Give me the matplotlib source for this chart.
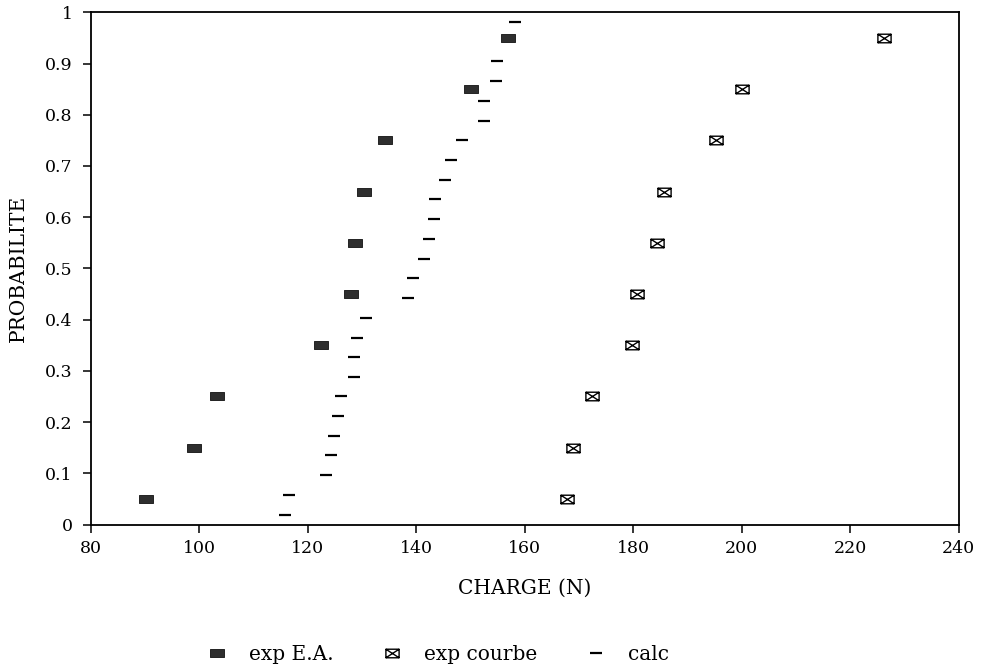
import matplotlib
matplotlib.use("Agg")
import matplotlib.pyplot as plt
from matplotlib.path import Path

# ---- data ----
ea_x = [90.2, 99.0, 103.4, 122.4, 128.0, 128.8, 130.5, 134.3, 150.1, 156.9]
ea_y = [0.05, 0.15, 0.25, 0.35, 0.45, 0.55, 0.65, 0.75, 0.85, 0.95]

courbe_x = [167.9, 168.9, 172.5, 179.8, 180.8, 184.5, 185.7, 195.3, 200.1, 226.3]
courbe_y = [0.05, 0.15, 0.25, 0.35, 0.45, 0.55, 0.65, 0.75, 0.85, 0.95]

calc_x = [115.9, 116.5, 123.4, 124.3, 124.9, 125.6, 126.2, 128.5, 128.6, 129.2,
          130.8, 138.5, 139.4, 141.5, 142.3, 143.3, 143.5, 145.3, 146.5, 148.4,
          152.6, 152.6, 154.8, 155.0, 157.0, 158.2]
calc_y = [0.019, 0.058, 0.096, 0.135, 0.173, 0.212, 0.250, 0.288, 0.327, 0.365,
          0.404, 0.442, 0.481, 0.519, 0.558, 0.596, 0.635, 0.673, 0.712, 0.750,
          0.788, 0.827, 0.865, 0.904, 0.945, 0.981]

x_ticks = [80, 100, 120, 140, 160, 180, 200, 220, 240]
y_ticks = [0, 0.1, 0.2, 0.3, 0.4, 0.5, 0.6, 0.7, 0.8, 0.9, 1.0]
y_tick_labels = ["0", "0.1", "0.2", "0.3", "0.4", "0.5", "0.6", "0.7", "0.8", "0.9", "1"]

legend_labels = ["exp E.A.", "exp courbe", "calc"]
x_label = "CHARGE (N)"
y_label = "PROBABILITE"

# ---- styles ----
plt.rcParams['font.family'] = ['DejaVu Serif']

rect = Path([(-1, -0.62), (1, -0.62), (1, 0.62), (-1, 0.62), (-1, -0.62)],
            [Path.MOVETO, Path.LINETO, Path.LINETO, Path.LINETO, Path.CLOSEPOLY])
env = Path([(-1, -0.65), (1, -0.65), (1, 0.65), (-1, 0.65), (-1, -0.65),
            (-1, -0.65), (1, 0.65), (-1, 0.65), (1, -0.65)],
           [Path.MOVETO, Path.LINETO, Path.LINETO, Path.LINETO, Path.CLOSEPOLY,
            Path.MOVETO, Path.LINETO, Path.MOVETO, Path.LINETO])

fig = plt.figure(figsize=(9.82, 6.68), dpi=100)
ax = fig.add_axes([0.0922, 0.2148, 0.8839, 0.7668])

ax.plot(calc_x, calc_y, linestyle='none', marker='_', markersize=9,
        markeredgewidth=1.6, color='black', label=legend_labels[2], zorder=2)
ax.plot(ea_x, ea_y, linestyle='none', marker=rect, markersize=9.5,
        markerfacecolor='#2e2e2e', markeredgecolor='#111111', markeredgewidth=0.6,
        label=legend_labels[0], zorder=3)
ax.plot(courbe_x, courbe_y, linestyle='none', marker=env, markersize=9.5,
        markerfacecolor='white', markeredgecolor='black', markeredgewidth=1.0,
        label=legend_labels[1], zorder=3)

ax.set_xlim(80, 240)
ax.set_ylim(0, 1)
ax.set_xticks(x_ticks)
ax.set_xticklabels([str(t) for t in x_ticks])
ax.set_yticks(y_ticks)
ax.set_yticklabels(y_tick_labels)
ax.tick_params(axis='x', direction='out', length=5.5, width=1.1, pad=6, labelsize=12.5)
ax.tick_params(axis='y', direction='out', length=6, width=1.1, pad=7, labelsize=12.5)
for s in ax.spines.values():
    s.set_linewidth(1.3)

ax.set_xlabel(x_label, fontsize=14.5)
ax.set_ylabel(y_label, fontsize=14.5)
ax.xaxis.set_label_coords(0.5, -0.106)
ax.yaxis.set_label_coords(-0.072, 0.5)

handles, labels = ax.get_legend_handles_labels()
order = [1, 2, 0]
fig.legend([handles[i] for i in order], [labels[i] for i in order],
           loc='center', bbox_to_anchor=(0.443, 0.02), ncol=3, frameon=False,
           fontsize=14.5, handlelength=1.6, handletextpad=0.8, columnspacing=2.1)

fig.savefig("out.png", dpi=100)
